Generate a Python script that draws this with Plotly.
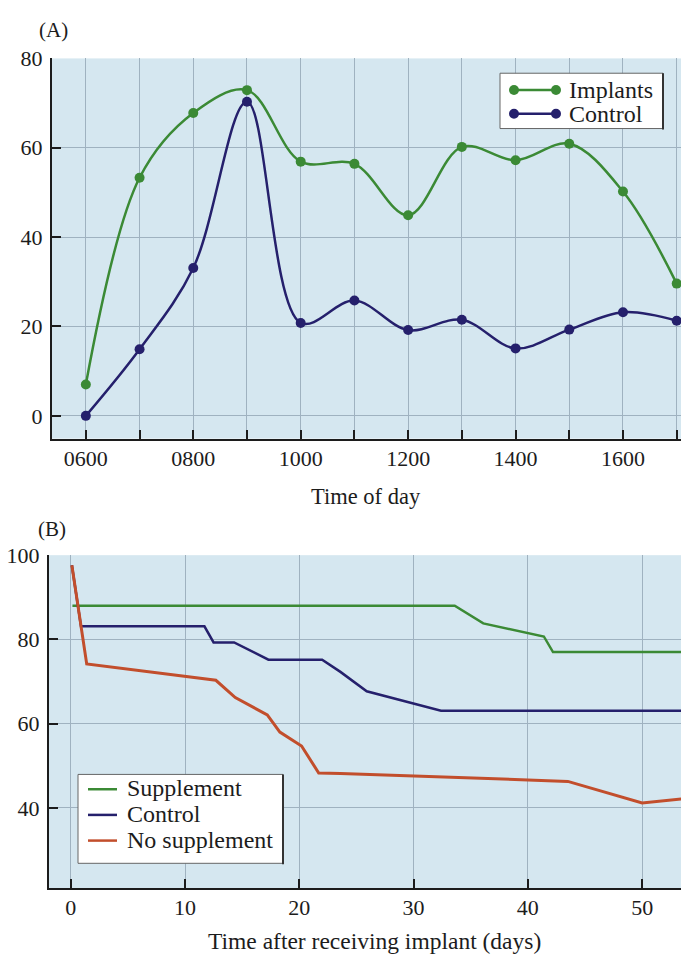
import plotly.graph_objects as go

# Panel A data
hours = [6, 7, 8, 9, 10, 11, 12, 13, 14, 15, 16, 17]
implants = [7, 53.3, 67.8, 72.9, 56.9, 56.4, 44.9, 60.2, 57.2, 60.9, 50.2, 29.6]
control_a = [0, 14.9, 33.1, 70.3, 20.8, 25.8, 19.2, 21.5, 15.1, 19.3, 23.2, 21.3]
a_tickvals = [6, 7, 8, 9, 10, 11, 12, 13, 14, 15, 16, 17]
a_ticktext = ["0600", "", "0800", "", "1000", "", "1200", "", "1400", "", "1600", ""]
a_names = ["Implants", "Control"]

# Panel B data
supp_x = [0.15, 33.6, 36.1, 41.4, 42.2, 54]
supp_y = [88, 88, 83.8, 80.7, 77.0, 77.0]
ctrl_x = [0.1, 0.9, 11.7, 12.5, 14.3, 17.3, 22.0, 23.6, 25.9, 32.4, 54]
ctrl_y = [97.6, 83.1, 83.1, 79.3, 79.3, 75.2, 75.2, 72.3, 67.7, 63.1, 63.1]
nos_x = [0.1, 1.4, 12.7, 14.4, 17.2, 18.3, 20.2, 21.7, 23.6, 43.5, 50.0, 54]
nos_y = [97.6, 74.2, 70.3, 66.2, 62.1, 58.0, 54.7, 48.3, 48.2, 46.3, 41.2, 42.3]
b_names = ["Supplement", "Control", "No supplement"]

GREEN = "#3b8a35"
NAVY = "#25206c"
RED = "#c24e2c"
BG = "#d5e7f0"
GRID = "#9fb2c0"
AX = "#1c1c1c"
FONT = "Liberation Serif"

W, H = 681, 967

def px_x(p):
    return p / W

def px_y(p):
    return 1 - p / H

fig = go.Figure()

fig.add_trace(go.Scatter(x=hours, y=implants, mode="lines+markers", name=a_names[0],
                         line=dict(color=GREEN, width=2.5, shape="spline", smoothing=1.0),
                         marker=dict(color=GREEN, size=10), xaxis="x", yaxis="y",
                         showlegend=False))
fig.add_trace(go.Scatter(x=hours, y=control_a, mode="lines+markers", name=a_names[1],
                         line=dict(color=NAVY, width=2.5, shape="spline", smoothing=1.0),
                         marker=dict(color=NAVY, size=10), xaxis="x", yaxis="y",
                         showlegend=False))

fig.add_trace(go.Scatter(x=supp_x, y=supp_y, mode="lines", name=b_names[0],
                         line=dict(color=GREEN, width=2.5), xaxis="x2", yaxis="y2",
                         showlegend=False))
fig.add_trace(go.Scatter(x=ctrl_x, y=ctrl_y, mode="lines", name=b_names[1],
                         line=dict(color=NAVY, width=2.5), xaxis="x2", yaxis="y2",
                         showlegend=False))
fig.add_trace(go.Scatter(x=nos_x, y=nos_y, mode="lines", name=b_names[2],
                         line=dict(color=RED, width=3), xaxis="x2", yaxis="y2",
                         showlegend=False))

common_axis = dict(showline=True, linecolor=AX, linewidth=2, ticks="inside", ticklen=9,
                   tickcolor=AX, tickwidth=2, showgrid=True, gridcolor=GRID, gridwidth=1,
                   zeroline=False, tickfont=dict(family=FONT, size=22, color=AX))

shapes = []
annotations = []

# ---- custom legend A ----
shapes.append(dict(type="rect", xref="paper", yref="paper",
                   x0=px_x(500), x1=px_x(663), y0=px_y(118), y1=px_y(62),
                   fillcolor="white", line=dict(color="#666666", width=1), layer="above"))
shapes.append(dict(type="line", xref="paper", yref="paper",
                   x0=px_x(663), x1=px_x(663), y0=px_y(119), y1=px_y(62),
                   line=dict(color="#333333", width=2), layer="above"))
for name, col, yy in zip(a_names, [GREEN, NAVY], [79, 103]):
    shapes.append(dict(type="line", xref="paper", yref="paper",
                       x0=px_x(514), x1=px_x(556), y0=px_y(yy), y1=px_y(yy),
                       line=dict(color=col, width=2.5), layer="above"))
    for cx in (514, 556):
        shapes.append(dict(type="circle", xref="paper", yref="paper",
                           x0=px_x(cx - 5), x1=px_x(cx + 5), y0=px_y(yy + 5), y1=px_y(yy - 5),
                           fillcolor=col, line=dict(color=col, width=0), layer="above"))
    annotations.append(dict(text=name, x=px_x(567), y=px_y(yy), xref="paper", yref="paper",
                            xanchor="left", yanchor="middle", showarrow=False,
                            font=dict(family=FONT, size=24, color=AX)))

# ---- custom legend B ----
shapes.append(dict(type="rect", xref="paper", yref="paper",
                   x0=px_x(78), x1=px_x(283), y0=px_y(862), y1=px_y(772),
                   fillcolor="white", line=dict(color="#666666", width=1), layer="above"))
shapes.append(dict(type="line", xref="paper", yref="paper",
                   x0=px_x(283), x1=px_x(283), y0=px_y(863), y1=px_y(772),
                   line=dict(color="#333333", width=2), layer="above"))
for name, col, yy in zip(b_names, [GREEN, NAVY, RED], [787, 813, 839]):
    shapes.append(dict(type="line", xref="paper", yref="paper",
                       x0=px_x(88), x1=px_x(117), y0=px_y(yy), y1=px_y(yy),
                       line=dict(color=col, width=2.5), layer="above"))
    annotations.append(dict(text=name, x=px_x(125), y=px_y(yy - 1), xref="paper", yref="paper",
                            xanchor="left", yanchor="middle", showarrow=False,
                            font=dict(family=FONT, size=24, color=AX)))

annotations += [
    dict(text="(A)", x=px_x(37), y=px_y(18), xref="paper", yref="paper",
         xanchor="left", yanchor="middle", showarrow=False,
         font=dict(family=FONT, size=21, color=AX)),
    dict(text="(B)", x=px_x(36), y=px_y(523), xref="paper", yref="paper",
         xanchor="left", yanchor="middle", showarrow=False,
         font=dict(family=FONT, size=21, color=AX)),
    dict(text="Time of day", x=px_x(366), y=px_y(491), xref="paper", yref="paper",
         xanchor="center", yanchor="middle", showarrow=False,
         font=dict(family=FONT, size=22.5, color=AX)),
    dict(text="Time after receiving implant (days)", x=px_x(374), y=px_y(941),
         xref="paper", yref="paper", xanchor="center", yanchor="middle",
         showarrow=False, font=dict(family=FONT, size=23.5, color=AX)),
]

fig.update_layout(
    width=W, height=H, margin=dict(l=0, r=0, t=0, b=0),
    paper_bgcolor="white", plot_bgcolor=BG,
    font=dict(family=FONT, color=AX),
    xaxis=dict(domain=[px_x(52), 1], range=[5.37, 17.08], tickmode="array",
               tickvals=a_tickvals, ticktext=a_ticktext, anchor="y", ticklabelstandoff=-1,
               **common_axis),
    yaxis=dict(domain=[px_y(432), px_y(47)], range=[-5.1, 80], tickmode="array",
               tickvals=[0, 20, 40, 60, 80], anchor="x", ticklabelstandoff=3, **common_axis),
    xaxis2=dict(domain=[px_x(49), 1], range=[-1.9, 53.4], tickmode="array",
                tickvals=[0, 10, 20, 30, 40, 50], anchor="y2", ticklabelstandoff=-1,
                **common_axis),
    yaxis2=dict(domain=[px_y(887), px_y(550)], range=[21, 100], tickmode="array",
                tickvals=[40, 60, 80, 100], anchor="x2", ticklabelstandoff=3, **common_axis),
    showlegend=False,
    shapes=shapes,
    annotations=annotations,
)

fig.write_html("out.html")
